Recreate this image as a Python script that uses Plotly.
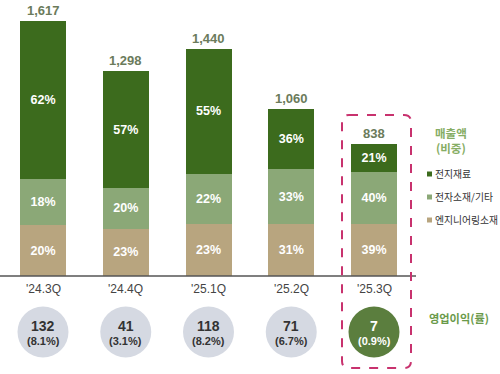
import plotly.graph_objects as go

quarters = ["'24.3Q", "'24.4Q", "'25.1Q", "'25.2Q", "'25.3Q"]
totals = [1617, 1298, 1440, 1060, 838]
pct_battery = [62, 57, 55, 36, 21]      # 전지재료
pct_electronic = [18, 20, 22, 33, 40]   # 전자소재/기타
pct_engineering = [20, 23, 23, 31, 39]  # 엔지니어링소재
op_profit = [132, 41, 118, 71, 7]
op_margin = [8.1, 3.1, 8.2, 6.7, 0.9]

series_names = ["전지재료", "전자소재/기타", "엔지니어링소재"]
C_DARK = "#3c6b1d"
C_LIGHT = "#8ba877"
C_TAN = "#b8a57f"
FONT = "Liberation Sans, Noto Sans CJK KR, sans-serif"
KFONT = "Noto Sans CJK KR, sans-serif"

W, H = 500, 374
BASE_PX = 276
PX_PER_UNIT = 0.1576
Y_TOP = BASE_PX / PX_PER_UNIT
Y_BOT = -(H - BASE_PX) / PX_PER_UNIT
X_STEP = 82.75
X0 = -43 / X_STEP
X1 = X0 + W / X_STEP

xs = list(range(len(quarters)))

fig = go.Figure()
for name, pcts, col in [
    (series_names[2], pct_engineering, C_TAN),
    (series_names[1], pct_electronic, C_LIGHT),
    (series_names[0], pct_battery, C_DARK),
]:
    fig.add_trace(go.Bar(
        x=xs, y=[t * p / 100 for t, p in zip(totals, pcts)],
        name=name, marker=dict(color=col, line=dict(width=0)),
        width=0.556, text=[f"{p}%" for p in pcts],
        textposition="inside", insidetextanchor="middle",
        textfont=dict(color="white", size=12.5, family=FONT),
        texttemplate="<b>%{text}</b>", showlegend=False,
        hoverinfo="skip",
    ))

# totals
for x, t in zip(xs, totals):
    fig.add_annotation(x=x, y=t, text=f"<b>{t:,}</b>", showarrow=False,
                       yanchor="bottom", yshift=1,
                       font=dict(size=13, color="#6b7b5b", family=FONT))

# category labels
for x, q in zip(xs, quarters):
    fig.add_annotation(x=x, y=0, text=q, showarrow=False, yanchor="top",
                       yshift=-4, font=dict(size=12, color="#444444", family=FONT))

# operating profit circles
circ_y = (BASE_PX - 332) / PX_PER_UNIT
fig.add_trace(go.Scatter(
    x=xs, y=[circ_y] * len(xs), mode="markers",
    marker=dict(size=51, color=["#d5d9e2"] * 4 + ["#5b7e3e"], line=dict(width=0)),
    showlegend=False, hoverinfo="skip",
))
for i, (x, v, m) in enumerate(zip(xs, op_profit, op_margin)):
    col = "white" if i == len(xs) - 1 else "#333333"
    fig.add_annotation(x=x, y=circ_y, text=f"<b>{v}</b>", showarrow=False,
                       yshift=6, font=dict(size=14, color=col, family=FONT))
    fig.add_annotation(x=x, y=circ_y, text=f"<b>({m}%)</b>", showarrow=False,
                       yshift=-9, font=dict(size=11, color=col, family=FONT))

# axis baseline
fig.add_shape(type="line", xref="paper", yref="y", x0=0, x1=416 / W, y0=0, y1=0,
              line=dict(color="#555555", width=1.5))

# dashed highlight box with rounded corners
bx0, bx1 = 342 / W, 411 / W
by0, by1 = 1 - 368 / H, 1 - 115 / H
rx, ry = 7 / W, 7 / H
path = (f"M {bx0+rx},{by1} L {bx1-rx},{by1} Q {bx1},{by1} {bx1},{by1-ry} "
        f"L {bx1},{by0+ry} Q {bx1},{by0} {bx1-rx},{by0} "
        f"L {bx0+rx},{by0} Q {bx0},{by0} {bx0},{by0+ry} "
        f"L {bx0},{by1-ry} Q {bx0},{by1} {bx0+rx},{by1} Z")
fig.add_shape(type="path", xref="paper", yref="paper", path=path,
              line=dict(color="#c8326e", width=2, dash="dash"))

# legend (manual)
fig.add_annotation(xref="paper", yref="paper", x=451 / W, y=1 - 141 / H,
                   xanchor="center", yanchor="middle",
                   text="<b>매출액<br>(비중)</b>", showarrow=False,
                   font=dict(size=11.5, color="#86ad64", family=KFONT))
for k, (name, col) in enumerate(zip(series_names, [C_DARK, C_LIGHT, C_TAN])):
    py = [174, 197, 220][k]
    fig.add_shape(type="rect", xref="paper", yref="paper",
                  x0=427 / W, x1=432 / W, y0=1 - (py + 2.5) / H, y1=1 - (py - 2.5) / H,
                  fillcolor=col, line=dict(width=0))
    fig.add_annotation(xref="paper", yref="paper", x=433 / W, y=1 - py / H,
                       text=name, showarrow=False, xanchor="left",
                       font=dict(size=9.8, color="#333333", family=KFONT))

fig.add_annotation(xref="paper", yref="paper", x=427 / W, y=1 - 328 / H,
                   text="<b>영업이익(률)</b>", showarrow=False, xanchor="left",
                   font=dict(size=11.2, color="#6a9a4a", family=KFONT))

fig.update_layout(
    width=W, height=H, margin=dict(l=0, r=0, t=0, b=0),
    barmode="stack", bargap=0.45,
    paper_bgcolor="white", plot_bgcolor="white",
    xaxis=dict(range=[X0, X1], visible=False, fixedrange=True),
    yaxis=dict(range=[Y_BOT, Y_TOP], visible=False, fixedrange=True),
    uniformtext=dict(minsize=12, mode="show"),
)
fig.write_html("out.html", config={"displayModeBar": False},
               post_script="document.body.style.margin='0';document.body.style.overflow='hidden';")
